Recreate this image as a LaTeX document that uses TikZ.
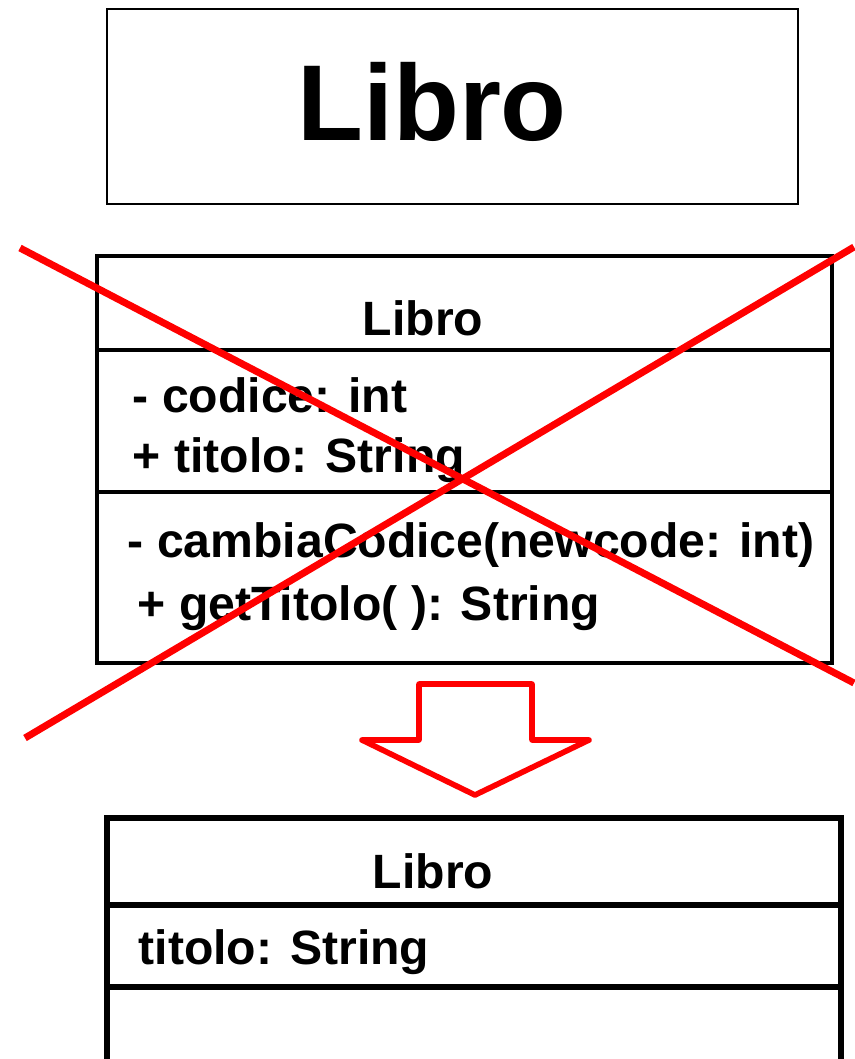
\documentclass[tikz,border=0pt]{standalone}
\usepackage{fontspec}
\setmainfont{Liberation Sans}
\usetikzlibrary{positioning}

\begin{document}
\begin{tikzpicture}
	[x=1cm,y=-1cm,
	 every node/.style={inner sep=0pt,font=\bfseries\fontsize{13.7}{16}\selectfont},
	 umlbox/.style={draw,line width=1.4pt},
	 member/.style={anchor=base west},
	 cross/.style={red,line width=2pt}]

	\useasboundingbox (0,0) rectangle (8.54,10.59);

	% old notation
	\draw[line width=0.7pt] (1.07,0.09) rectangle (7.98,2.04);
	\node[font=\bfseries\fontsize{30.7}{36}\selectfont,anchor=base] (old) at (4.32,1.40) {Libro};

	% full class
	\draw[umlbox] (0.97,2.56) rectangle (8.32,6.63);
	\draw[umlbox] (0.97,3.50) -- (8.32,3.50);
	\draw[umlbox] (0.97,4.92) -- (8.32,4.92);
	\node[anchor=base] (name1) at (4.23,3.35) {Libro};
	\node[member] (a1) at (1.32,4.12) {- codice: int};
	\node[member] (a2) at (1.32,4.72) {+ titolo: String};
	\node[member] (m1) at (1.27,5.57) {- cambiaCodice(newcode: int)};
	\node[member] (m2) at (1.37,6.20) {+ getTitolo( ): String};

	\draw[cross] (0.20,2.48) -- (8.54,6.83);
	\draw[cross] (8.54,2.47) -- (0.25,7.38);

	% arrow
	\draw[red,line width=1.6pt,line join=round]
		(4.19,6.84) -- (5.32,6.84) -- (5.32,7.40) -- (5.89,7.40) -- (4.75,7.95)
		-- (3.62,7.40) -- (4.19,7.40) -- cycle;

	% simplified class
	\draw[umlbox,line width=1.6pt] (1.07,10.59) -- (1.07,8.18) -- (8.41,8.18) -- (8.41,10.59);
	\draw[umlbox,line width=1.6pt] (1.07,9.05) -- (8.41,9.05);
	\draw[umlbox,line width=1.6pt] (1.07,9.87) -- (8.41,9.87);
	\node[anchor=base] (name2) at (4.33,8.88) {Libro};
	\node[member] (a3) at (1.38,9.64) {titolo: String};
\end{tikzpicture}
\end{document}
